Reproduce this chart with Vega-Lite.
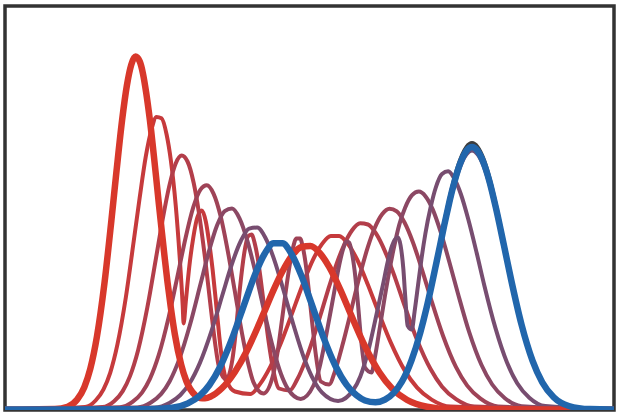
{
  "$schema": "https://vega.github.io/schema/vega-lite/v6.json",
  "width": 609,
  "height": 404,
  "autosize": {"type": "none"},
  "padding": {"left": 5, "top": 6, "right": 6, "bottom": 8},
  "background": "white",
  "config": {"view": {"stroke": "#333333", "strokeWidth": 3.5}},
  "data": {
    "values": [
      {"s":"red","x":0,"y":0},{"s":"red","x":50,"y":0.4},{"s":"red","x":62.7,"y":2.8},{"s":"red","x":72.2,"y":10.0},{"s":"red","x":79.3,"y":22.3},{"s":"red","x":85.3,"y":40.7},{"s":"red","x":91.9,"y":72.7},{"s":"red","x":99.4,"y":125.8},{"s":"red","x":106.4,"y":189.2},{"s":"red","x":111.6,"y":239.3},{"s":"red","x":117.1,"y":289.4},{"s":"red","x":121.9,"y":324.1},{"s":"red","x":126.3,"y":344.9},{"s":"red","x":130.5,"y":352.9},{"s":"red","x":134.7,"y":348.1},{"s":"red","x":137.9,"y":336.2},{"s":"red","x":141.2,"y":316.7},{"s":"red","x":143.6,"y":299.4},{"s":"red","x":144.9,"y":289.4},{"s":"red","x":146.2,"y":278.4},{"s":"red","x":147.5,"y":266.4},{"s":"red","x":148.9,"y":253.3},{"s":"red","x":151.2,"y":231.5},{"s":"red","x":153.7,"y":207.2},{"s":"red","x":156.6,"y":180.0},{"s":"red","x":159.9,"y":149.8},{"s":"red","x":162.5,"y":127.4},{"s":"red","x":165.8,"y":102.2},{"s":"red","x":169.9,"y":74.9},{"s":"red","x":176.2,"y":44.8},{"s":"red","x":181.3,"y":28.5},{"s":"red","x":190.5,"y":14.0},{"s":"red","x":195,"y":11.5},{"s":"red","x":200,"y":11.2},{"s":"red","x":206.0,"y":13.1},{"s":"red","x":216.9,"y":21.2},{"s":"red","x":229.7,"y":37.3},{"s":"red","x":241.4,"y":57.8},{"s":"red","x":249.7,"y":75.5},{"s":"red","x":258.3,"y":95.4},{"s":"red","x":268.5,"y":119.4},{"s":"red","x":277.1,"y":137.5},{"s":"red","x":287.1,"y":154.0},{"s":"red","x":296.4,"y":162.5},{"s":"red","x":305.4,"y":163.4},{"s":"red","x":314.5,"y":156.8},{"s":"red","x":324.3,"y":142.4},{"s":"red","x":335.5,"y":119.4},{"s":"red","x":345.7,"y":95.4},{"s":"red","x":359.6,"y":64.0},{"s":"red","x":374.3,"y":37.3},{"s":"red","x":387.1,"y":21.0},{"s":"red","x":402.2,"y":9.5},{"s":"red","x":422.0,"y":2.8},{"s":"red","x":445,"y":0.5},{"s":"red","x":609,"y":0},

      {"s":"t1","x":0,"y":0},{"s":"t1","x":80.1,"y":2.6},{"s":"t1","x":90.6,"y":9.0},{"s":"t1","x":98.5,"y":20.2},{"s":"t1","x":105.2,"y":36.7},{"s":"t1","x":112.5,"y":65.3},{"s":"t1","x":120.9,"y":112.5},{"s":"t1","x":128.7,"y":168.2},{"s":"t1","x":134.6,"y":211.3},{"s":"t1","x":140.8,"y":253.1},{"s":"t1","x":146.4,"y":279.8},{"s":"t1","x":151.5,"y":292.5},{"s":"t1","x":156.5,"y":291.2},{"s":"t1","x":161.7,"y":274.5},{"s":"t1","x":165.9,"y":248.8},{"s":"t1","x":170.7,"y":204.4},{"s":"t1","x":174.8,"y":150.8},{"s":"t1","x":177.7,"y":103.9},{"s":"t1","x":178.6,"y":86},{"s":"t1","x":180.8,"y":108},{"s":"t1","x":184.3,"y":143},{"s":"t1","x":188.3,"y":172},{"s":"t1","x":192.3,"y":192},{"s":"t1","x":196.8,"y":199},{"s":"t1","x":200.8,"y":188},{"s":"t1","x":204.3,"y":166},{"s":"t1","x":207.6,"y":140},{"s":"t1","x":210.7,"y":110},{"s":"t1","x":214.2,"y":74},{"s":"t1","x":217.8,"y":44},{"s":"t1","x":222.0,"y":28},{"s":"t1","x":230.0,"y":18},{"s":"t1","x":245.4,"y":15.5},{"s":"t1","x":254.6,"y":24.9},{"s":"t1","x":265.5,"y":43.2},{"s":"t1","x":275.7,"y":65.9},{"s":"t1","x":283.0,"y":85.1},{"s":"t1","x":290.7,"y":106.1},{"s":"t1","x":300.0,"y":131.0},{"s":"t1","x":307.8,"y":149.4},{"s":"t1","x":317.1,"y":165.6},{"s":"t1","x":325.8,"y":173.5},{"s":"t1","x":334.2,"y":173.5},{"s":"t1","x":342.8,"y":165.8},{"s":"t1","x":352.1,"y":150.0},{"s":"t1","x":362.7,"y":125.3},{"s":"t1","x":372.5,"y":99.9},{"s":"t1","x":385.8,"y":66.9},{"s":"t1","x":399.8,"y":38.9},{"s":"t1","x":412.1,"y":21.9},{"s":"t1","x":426.6,"y":9.9},{"s":"t1","x":445.7,"y":2.9},{"s":"t1","x":609,"y":0},

      {"s":"t2","x":0,"y":0},{"s":"t2","x":97.5,"y":2.4},{"s":"t2","x":109.1,"y":8.2},{"s":"t2","x":117.7,"y":18.4},{"s":"t2","x":125.0,"y":33.4},{"s":"t2","x":133.1,"y":59.3},{"s":"t2","x":142.3,"y":101.8},{"s":"t2","x":151.0,"y":151.4},{"s":"t2","x":157.5,"y":189.2},{"s":"t2","x":164.6,"y":224.9},{"s":"t2","x":170.8,"y":246.2},{"s":"t2","x":176.7,"y":253.9},{"s":"t2","x":182.5,"y":248.0},{"s":"t2","x":188.7,"y":226.5},{"s":"t2","x":193.8,"y":197.5},{"s":"t2","x":200.1,"y":150.9},{"s":"t2","x":205.9,"y":100.8},{"s":"t2","x":210.5,"y":63.3},{"s":"t2","x":214.1,"y":42},{"s":"t2","x":221.0,"y":30},{"s":"t2","x":227.4,"y":50},{"s":"t2","x":230.6,"y":76},{"s":"t2","x":234.8,"y":120},{"s":"t2","x":239.2,"y":156},{"s":"t2","x":242.9,"y":173},{"s":"t2","x":246.5,"y":175},{"s":"t2","x":250.0,"y":165},{"s":"t2","x":252.6,"y":152},{"s":"t2","x":255.6,"y":131},{"s":"t2","x":259.0,"y":104},{"s":"t2","x":263.9,"y":66},{"s":"t2","x":267.6,"y":43},{"s":"t2","x":274.0,"y":21},{"s":"t2","x":284.7,"y":19.0},{"s":"t2","x":292.3,"y":30.2},{"s":"t2","x":301.4,"y":51.4},{"s":"t2","x":310.0,"y":76.7},{"s":"t2","x":316.4,"y":97.4},{"s":"t2","x":323.1,"y":119.6},{"s":"t2","x":331.4,"y":145.1},{"s":"t2","x":338.6,"y":163.5},{"s":"t2","x":347.1,"y":179.2},{"s":"t2","x":355.1,"y":186.2},{"s":"t2","x":363.0,"y":185.0},{"s":"t2","x":371.1,"y":175.8},{"s":"t2","x":379.9,"y":158.4},{"s":"t2","x":390.0,"y":131.9},{"s":"t2","x":399.2,"y":104.9},{"s":"t2","x":411.9,"y":70.0},{"s":"t2","x":425.4,"y":40.7},{"s":"t2","x":437.1,"y":22.8},{"s":"t2","x":451.0,"y":10.3},{"s":"t2","x":469.3,"y":3.0},{"s":"t2","x":609,"y":0},

      {"s":"t3","x":0,"y":0},{"s":"t3","x":115.0,"y":2.2},{"s":"t3","x":127.5,"y":7.6},{"s":"t3","x":137.0,"y":16.9},{"s":"t3","x":144.9,"y":30.6},{"s":"t3","x":153.7,"y":54.3},{"s":"t3","x":163.8,"y":92.9},{"s":"t3","x":173.4,"y":137.7},{"s":"t3","x":180.5,"y":171.3},{"s":"t3","x":188.3,"y":202.3},{"s":"t3","x":195.3,"y":219.7},{"s":"t3","x":201.9,"y":224.3},{"s":"t3","x":208.5,"y":215.9},{"s":"t3","x":215.7,"y":192.9},{"s":"t3","x":221.8,"y":163.7},{"s":"t3","x":229.6,"y":119.6},{"s":"t3","x":237.1,"y":75.7},{"s":"t3","x":243.3,"y":45.5},{"s":"t3","x":248.4,"y":27.4},{"s":"t3","x":258.4,"y":16},{"s":"t3","x":267.7,"y":33},{"s":"t3","x":272.2,"y":55},{"s":"t3","x":277.7,"y":95},{"s":"t3","x":283.2,"y":135},{"s":"t3","x":287.6,"y":160},{"s":"t3","x":291.4,"y":171},{"s":"t3","x":295.1,"y":171},{"s":"t3","x":297.7,"y":163},{"s":"t3","x":300.5,"y":147},{"s":"t3","x":303.6,"y":121},{"s":"t3","x":307.7,"y":82},{"s":"t3","x":310.8,"y":55},{"s":"t3","x":315.8,"y":28},{"s":"t3","x":324.1,"y":25},{"s":"t3","x":330.0,"y":38.4},{"s":"t3","x":337.2,"y":63.4},{"s":"t3","x":344.4,"y":91.8},{"s":"t3","x":349.7,"y":113.9},{"s":"t3","x":355.6,"y":137.0},{"s":"t3","x":362.9,"y":162.6},{"s":"t3","x":369.3,"y":180.5},{"s":"t3","x":377.1,"y":195.2},{"s":"t3","x":384.5,"y":200.8},{"s":"t3","x":391.8,"y":198.1},{"s":"t3","x":399.4,"y":187.2},{"s":"t3","x":407.7,"y":167.8},{"s":"t3","x":417.2,"y":139.2},{"s":"t3","x":426.0,"y":110.4},{"s":"t3","x":438.1,"y":73.5},{"s":"t3","x":450.9,"y":42.6},{"s":"t3","x":462.2,"y":23.9},{"s":"t3","x":475.5,"y":10.8},{"s":"t3","x":493.0,"y":3.1},{"s":"t3","x":609,"y":0},

      {"s":"t4","x":0,"y":0},{"s":"t4","x":132.4,"y":2.0},{"s":"t4","x":145.9,"y":7.0},{"s":"t4","x":156.2,"y":15.6},{"s":"t4","x":164.7,"y":28.3},{"s":"t4","x":174.2,"y":50.1},{"s":"t4","x":185.2,"y":85.5},{"s":"t4","x":195.7,"y":126.2},{"s":"t4","x":203.5,"y":156.5},{"s":"t4","x":212.0,"y":183.9},{"s":"t4","x":219.7,"y":198.4},{"s":"t4","x":227.0,"y":200.9},{"s":"t4","x":234.5,"y":191.1},{"s":"t4","x":242.6,"y":167.9},{"s":"t4","x":249.8,"y":139.8},{"s":"t4","x":259.0,"y":99.0},{"s":"t4","x":268.3,"y":60.6},{"s":"t4","x":276.0,"y":35.5},{"s":"t4","x":282.6,"y":21.1},{"s":"t4","x":295.7,"y":10.6},{"s":"t4","x":308.5,"y":24},{"s":"t4","x":314.5,"y":42},{"s":"t4","x":321.5,"y":76},{"s":"t4","x":328.4,"y":113},{"s":"t4","x":333.5,"y":141},{"s":"t4","x":337.7,"y":159},{"s":"t4","x":341.6,"y":168},{"s":"t4","x":344.1,"y":167},{"s":"t4","x":346.7,"y":158},{"s":"t4","x":349.6,"y":139},{"s":"t4","x":353.2,"y":103},{"s":"t4","x":355.8,"y":73},{"s":"t4","x":360.0,"y":42},{"s":"t4","x":366.5,"y":37},{"s":"t4","x":370.2,"y":54},{"s":"t4","x":375.0,"y":83},{"s":"t4","x":380.0,"y":114},{"s":"t4","x":384.0,"y":137},{"s":"t4","x":388.6,"y":160.3},{"s":"t4","x":394.3,"y":184.9},{"s":"t4","x":400.0,"y":201.5},{"s":"t4","x":407.0,"y":214.3},{"s":"t4","x":413.8,"y":217.9},{"s":"t4","x":420.6,"y":213.1},{"s":"t4","x":427.7,"y":200.1},{"s":"t4","x":435.4,"y":178.4},{"s":"t4","x":444.4,"y":147.3},{"s":"t4","x":452.8,"y":116.5},{"s":"t4","x":464.2,"y":77.3},{"s":"t4","x":476.4,"y":44.7},{"s":"t4","x":487.2,"y":25.0},{"s":"t4","x":499.9,"y":11.3},{"s":"t4","x":516.6,"y":3.3},{"s":"t4","x":609,"y":0},

      {"s":"t5","x":0,"y":0},{"s":"t5","x":149.8,"y":1.9},{"s":"t5","x":164.4,"y":6.5},{"s":"t5","x":175.4,"y":14.5},{"s":"t5","x":184.6,"y":26.2},{"s":"t5","x":194.8,"y":46.4},{"s":"t5","x":206.7,"y":79.2},{"s":"t5","x":218.0,"y":116.5},{"s":"t5","x":226.4,"y":144.0},{"s":"t5","x":235.8,"y":168.5},{"s":"t5","x":244.2,"y":180.9},{"s":"t5","x":252.2,"y":181.9},{"s":"t5","x":260.5,"y":171.5},{"s":"t5","x":269.6,"y":148.7},{"s":"t5","x":277.7,"y":122.0},{"s":"t5","x":288.5,"y":84.5},{"s":"t5","x":299.4,"y":50.5},{"s":"t5","x":308.8,"y":29.1},{"s":"t5","x":316.9,"y":17.1},{"s":"t5","x":333.1,"y":8.6},{"s":"t5","x":348.2,"y":19.5},{"s":"t5","x":355.3,"y":33.1},{"s":"t5","x":363.6,"y":60},{"s":"t5","x":371.5,"y":95},{"s":"t5","x":377.8,"y":124},{"s":"t5","x":382.8,"y":148},{"s":"t5","x":387.2,"y":164},{"s":"t5","x":390.3,"y":170.5},{"s":"t5","x":393.0,"y":172},{"s":"t5","x":395.6,"y":164},{"s":"t5","x":398.4,"y":140},{"s":"t5","x":400.3,"y":112},{"s":"t5","x":402.6,"y":84},{"s":"t5","x":406.8,"y":80},{"s":"t5","x":409.6,"y":98},{"s":"t5","x":413.0,"y":124},{"s":"t5","x":416.4,"y":150},{"s":"t5","x":420.4,"y":176},{"s":"t5","x":425.8,"y":203},{"s":"t5","x":430.8,"y":222},{"s":"t5","x":437.0,"y":235.5},{"s":"t5","x":443.2,"y":238.2},{"s":"t5","x":449.4,"y":230.7},{"s":"t5","x":456.0,"y":215.0},{"s":"t5","x":463.2,"y":190.5},{"s":"t5","x":471.7,"y":156.5},{"s":"t5","x":479.5,"y":123.3},{"s":"t5","x":490.4,"y":81.6},{"s":"t5","x":502.0,"y":47.0},{"s":"t5","x":512.2,"y":26.3},{"s":"t5","x":524.3,"y":11.8},{"s":"t5","x":540.3,"y":3.4},{"s":"t5","x":609,"y":0},

      {"s":"dark","x":370.5,"y":7.2},{"s":"dark","x":380,"y":9.8},{"s":"dark","x":388.5,"y":16.4},{"s":"dark","x":396.9,"y":28.2},{"s":"dark","x":406.5,"y":49.8},{"s":"dark","x":415.2,"y":77.7},{"s":"dark","x":421.4,"y":102.4},{"s":"dark","x":426.2,"y":124.2},{"s":"dark","x":430.3,"y":143.8},{"s":"dark","x":435.1,"y":166.8},{"s":"dark","x":439.2,"y":187.0},{"s":"dark","x":443.0,"y":204.3},{"s":"dark","x":444.7,"y":212.2},{"s":"dark","x":449.7,"y":232.2},{"s":"dark","x":452.8,"y":242.9},{"s":"dark","x":457.2,"y":254.8},{"s":"dark","x":461.5,"y":262.6},{"s":"dark","x":467.0,"y":266.4},{"s":"dark","x":472.5,"y":262.6},{"s":"dark","x":478.2,"y":251.4},{"s":"dark","x":484.3,"y":232.2},{"s":"dark","x":491.0,"y":204.3},{"s":"dark","x":498.9,"y":166.8},{"s":"dark","x":506.3,"y":131.0},{"s":"dark","x":516.5,"y":86.3},{"s":"dark","x":527.5,"y":49.6},{"s":"dark","x":537.2,"y":27.7},{"s":"dark","x":548.7,"y":12.4},{"s":"dark","x":563.9,"y":3.6},{"s":"dark","x":585,"y":0.45},{"s":"dark","x":609,"y":0},

      {"s":"t6","x":370.5,"y":7.0},{"s":"t6","x":380,"y":9.5},{"s":"t6","x":388.5,"y":15.9},{"s":"t6","x":396.9,"y":27.4},{"s":"t6","x":406.5,"y":48.4},{"s":"t6","x":415.2,"y":75.5},{"s":"t6","x":421.4,"y":99.5},{"s":"t6","x":426.2,"y":120.7},{"s":"t6","x":430.3,"y":139.8},{"s":"t6","x":435.1,"y":162.1},{"s":"t6","x":439.2,"y":181.8},{"s":"t6","x":443.0,"y":198.6},{"s":"t6","x":444.7,"y":206.3},{"s":"t6","x":449.7,"y":225.7},{"s":"t6","x":452.8,"y":236.1},{"s":"t6","x":457.2,"y":247.7},{"s":"t6","x":461.5,"y":255.2},{"s":"t6","x":467.0,"y":258.9},{"s":"t6","x":472.5,"y":255.2},{"s":"t6","x":478.2,"y":244.4},{"s":"t6","x":484.3,"y":225.7},{"s":"t6","x":491.0,"y":198.6},{"s":"t6","x":498.9,"y":162.1},{"s":"t6","x":506.3,"y":127.3},{"s":"t6","x":516.5,"y":83.9},{"s":"t6","x":527.5,"y":48.2},{"s":"t6","x":537.2,"y":26.9},{"s":"t6","x":548.7,"y":12.1},{"s":"t6","x":563.9,"y":3.5},{"s":"t6","x":585,"y":0.4},{"s":"t6","x":609,"y":0},

      {"s":"blue","x":0,"y":0},{"s":"blue","x":145,"y":0.2},{"s":"blue","x":167.2,"y":1.7},{"s":"blue","x":182.8,"y":6.1},{"s":"blue","x":194.6,"y":13.6},{"s":"blue","x":204.4,"y":24.5},{"s":"blue","x":215.4,"y":43.3},{"s":"blue","x":228.1,"y":73.7},{"s":"blue","x":240.3,"y":108.2},{"s":"blue","x":249.4,"y":133.4},{"s":"blue","x":259.5,"y":155.5},{"s":"blue","x":268.6,"y":166.2},{"s":"blue","x":277.4,"y":166.2},{"s":"blue","x":286.5,"y":155.5},{"s":"blue","x":296.6,"y":133.4},{"s":"blue","x":305.7,"y":108.2},{"s":"blue","x":317.9,"y":73.7},{"s":"blue","x":330.6,"y":43.3},{"s":"blue","x":341.6,"y":24.7},{"s":"blue","x":351.2,"y":14.4},{"s":"blue","x":360,"y":9.0},{"s":"blue","x":370.5,"y":7.2},{"s":"blue","x":380,"y":9.8},{"s":"blue","x":388.5,"y":16.4},{"s":"blue","x":396.9,"y":27.8},{"s":"blue","x":406.5,"y":49.1},{"s":"blue","x":415.2,"y":76.5},{"s":"blue","x":421.4,"y":100.9},{"s":"blue","x":426.2,"y":122.3},{"s":"blue","x":430.3,"y":141.6},{"s":"blue","x":435.1,"y":164.3},{"s":"blue","x":439.2,"y":184.2},{"s":"blue","x":443.0,"y":201.2},{"s":"blue","x":444.7,"y":209.0},{"s":"blue","x":449.7,"y":228.7},{"s":"blue","x":452.8,"y":239.3},{"s":"blue","x":457.2,"y":251.0},{"s":"blue","x":461.5,"y":258.7},{"s":"blue","x":467.0,"y":262.4},{"s":"blue","x":472.5,"y":258.7},{"s":"blue","x":478.2,"y":247.6},{"s":"blue","x":484.3,"y":228.7},{"s":"blue","x":491.0,"y":201.2},{"s":"blue","x":498.9,"y":164.3},{"s":"blue","x":506.3,"y":129.0},{"s":"blue","x":516.5,"y":85.0},{"s":"blue","x":527.5,"y":48.9},{"s":"blue","x":537.2,"y":27.3},{"s":"blue","x":548.7,"y":12.2},{"s":"blue","x":563.9,"y":3.5},{"s":"blue","x":585,"y":0.4},{"s":"blue","x":609,"y":0}
    ]
  },
  "encoding": {
    "x": {"field": "x", "type": "quantitative", "scale": {"domain": [0, 609], "nice": false, "zero": false}, "axis": null},
    "y": {"field": "y", "type": "quantitative", "scale": {"domain": [-0.5, 403.5], "nice": false, "zero": false}, "axis": null},
    "color": {
      "field": "s",
      "type": "nominal",
      "scale": {
        "domain": ["red", "t1", "t2", "t3", "t4", "t5", "t6", "dark", "blue"],
        "range": ["#d8382b", "#c63a3c", "#b33e4a", "#9f4357", "#8b4864", "#774d70", "#6c5078", "#3d3d3d", "#2166ac"]
      },
      "legend": null
    }
  },
  "layer": [
    {
      "transform": [{"filter": {"field": "s", "oneOf": ["t1", "t2", "t3", "t4", "t5"]}}],
      "mark": {"type": "line", "interpolate": "monotone", "strokeWidth": 4, "strokeCap": "round", "strokeJoin": "round", "clip": true}
    },
    {
      "transform": [{"filter": {"field": "s", "equal": "red"}}],
      "mark": {"type": "line", "interpolate": "monotone", "strokeWidth": 6.5, "strokeCap": "round", "strokeJoin": "round", "clip": true}
    },
    {
      "transform": [{"filter": {"field": "s", "oneOf": ["dark", "t6"]}}],
      "mark": {"type": "line", "interpolate": "monotone", "strokeWidth": 4, "strokeCap": "round", "strokeJoin": "round", "clip": true}
    },
    {
      "transform": [{"filter": {"field": "s", "equal": "blue"}}],
      "mark": {"type": "line", "interpolate": "monotone", "strokeWidth": 6.5, "strokeCap": "round", "strokeJoin": "round", "clip": true}
    }
  ]
}
